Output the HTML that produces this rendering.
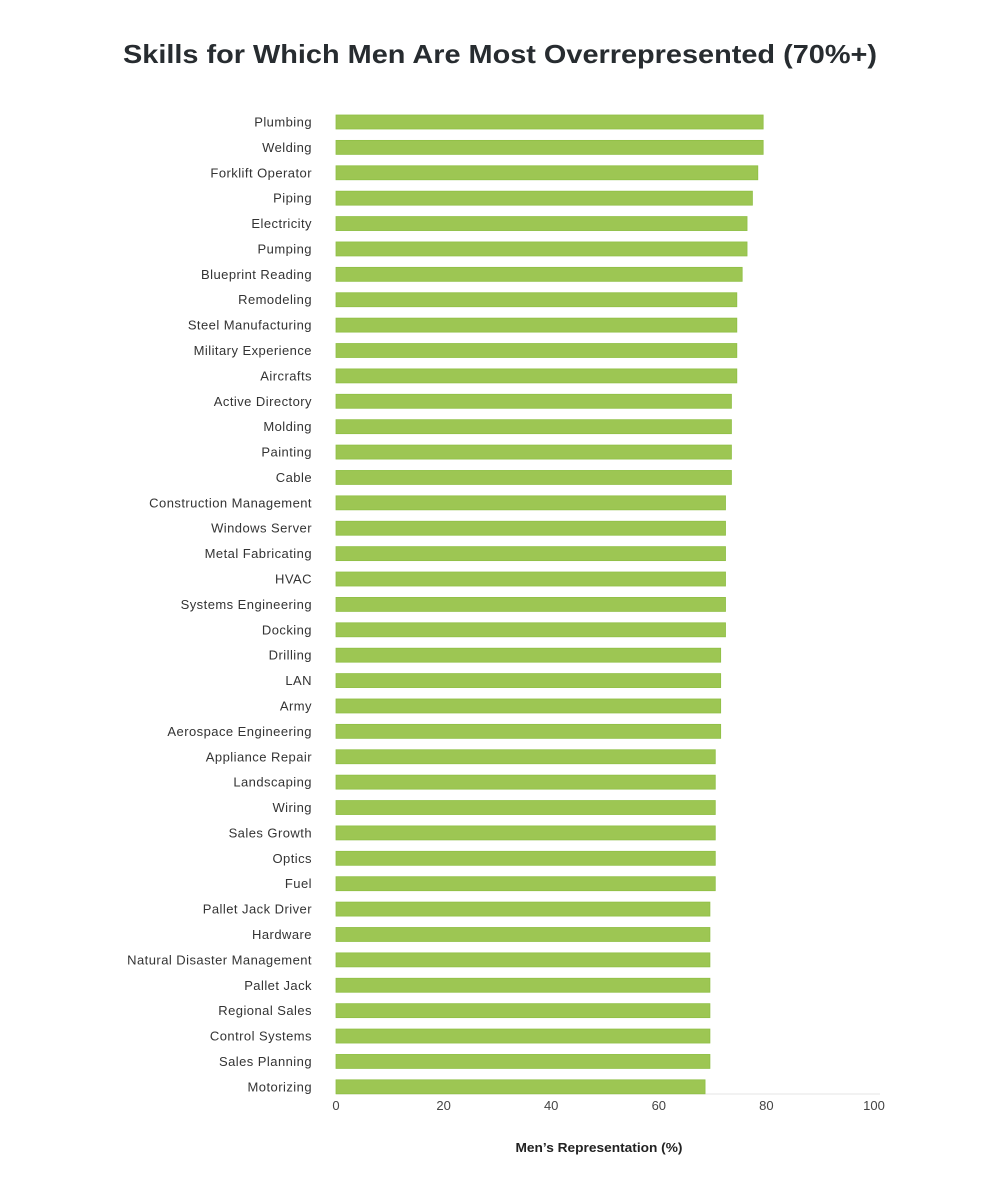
<!DOCTYPE html>
<html><head><meta charset="utf-8"><style>
body{margin:0;background:#fff;font-family:"Liberation Sans",sans-serif}
</style></head><body>
<svg width="1000" height="1177" xmlns="http://www.w3.org/2000/svg" id="chart">
<text x="500" y="63" text-anchor="middle" font-size="26" font-weight="bold" fill="#272c30" textLength="754" lengthAdjust="spacingAndGlyphs">Skills for Which Men Are Most Overrepresented (70%+)</text>
<line x1="336" y1="1094" x2="880" y2="1094" stroke="#e6e6e6" stroke-width="1"/>
<text x="599" y="1152" text-anchor="middle" font-size="13" font-weight="bold" fill="#222" textLength="167" lengthAdjust="spacingAndGlyphs">Men’s Representation (%)</text>
<g id="bars"></g><g id="labels"></g><g id="ticks"></g>
</svg>
<script>
const categories=["Plumbing","Welding","Forklift Operator","Piping","Electricity","Pumping","Blueprint Reading","Remodeling","Steel Manufacturing","Military Experience","Aircrafts","Active Directory","Molding","Painting","Cable","Construction Management","Windows Server","Metal Fabricating","HVAC","Systems Engineering","Docking","Drilling","LAN","Army","Aerospace Engineering","Appliance Repair","Landscaping","Wiring","Sales Growth","Optics","Fuel","Pallet Jack Driver","Hardware","Natural Disaster Management","Pallet Jack","Regional Sales","Control Systems","Sales Planning","Motorizing"];
const values=[79.4,79.4,78.4,77.4,76.4,76.4,75.5,74.5,74.5,74.5,74.5,73.5,73.5,73.5,73.5,72.4,72.4,72.4,72.4,72.4,72.4,71.5,71.5,71.5,71.5,70.5,70.5,70.5,70.5,70.5,70.5,69.5,69.5,69.5,69.5,69.5,69.5,69.5,68.6];
const tickValues=[0,20,40,60,80,100];
const NS="http://www.w3.org/2000/svg";
const x=v=>336+v*5.38;
const y=i=>122+i*25.39;
const bars=document.getElementById('bars'),labels=document.getElementById('labels'),ticks=document.getElementById('ticks');
categories.forEach((c,i)=>{
  const r=document.createElementNS(NS,'rect');
  r.setAttribute('x',x(0));r.setAttribute('y',y(i)-7);
  r.setAttribute('width',x(values[i])-x(0));r.setAttribute('height',14);
  r.setAttribute('fill','#9dc653');r.setAttribute('stroke','#8fbf45');r.setAttribute('stroke-width','0.8');
  
  
  bars.appendChild(r);
  const t=document.createElementNS(NS,'text');
  t.setAttribute('x',312);t.setAttribute('y',y(i)+4.5);t.setAttribute('text-anchor','end');
  t.setAttribute('font-size','13');t.setAttribute('fill','#333');t.setAttribute('letter-spacing','0.45');t.textContent=c;
  
  
  labels.appendChild(t);
});
tickValues.forEach(v=>{
  const t=document.createElementNS(NS,'text');
  t.setAttribute('x',x(v));t.setAttribute('y',1110);t.setAttribute('text-anchor','middle');
  t.setAttribute('font-size','13');t.setAttribute('fill','#444');t.textContent=v;
  
  
  ticks.appendChild(t);
});
</script>
</body></html>
